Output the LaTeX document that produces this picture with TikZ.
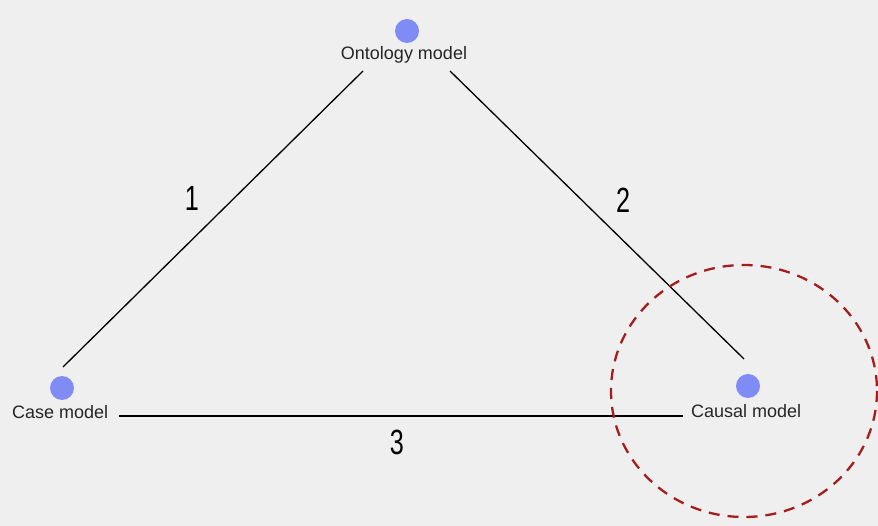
\documentclass[tikz,border=0pt]{standalone}
\usepackage{fontspec}
\setmainfont{Liberation Sans}
\definecolor{bg}{RGB}{239,239,239}
\definecolor{dotblue}{RGB}{128,140,245}
\definecolor{dred}{RGB}{165,30,30}
\begin{document}
\begin{tikzpicture}[x=1pt,y=-1pt,
  dot/.style={circle,fill=dotblue,inner sep=0pt,minimum size=24pt},
  lbl/.style={font=\fontsize{18}{20}\selectfont,text=black!85,inner sep=0pt},
  num/.style={font=\fontsize{35}{38}\selectfont,inner sep=0pt,xscale=0.72},
  edge/.style={line width=1.3pt,black}]
\fill[bg] (0,0) rectangle (878,526);
\useasboundingbox (0,0) rectangle (878,526);
% nodes
\node[dot] (ont) at (407,31) {};
\node[lbl] (ontl) at (404,55) {Ontology model};
\node[dot] (case) at (62,388) {};
\node[lbl,anchor=west] (casel) at (12,412) {Case model};
\node[dot] (caus) at (748,386) {};
\node[lbl,anchor=west] (causl) at (691,411) {Causal model};
% connector ends
\coordinate (a1) at (363,71);
\coordinate (b1) at (63,367);
\coordinate (a2) at (450,71);
\coordinate (b2) at (744,359);
\coordinate (a3) at (119,416);
\coordinate (b3) at (683,416);
\draw[edge] (a1) -- (b1);
\draw[edge] (a2) -- (b2);
\draw[edge] (a3) -- (b3);
% labels
\node[num] (n1) at (192,198) {1};
\node[num] (n2) at (623,200) {2};
\node[num] (n3) at (397,442) {3};
% highlight circle
\draw[dred,line width=2.3pt,dash pattern=on 11pt off 8pt] (744,391) ellipse [x radius=133, y radius=126];
\end{tikzpicture}
\end{document}
